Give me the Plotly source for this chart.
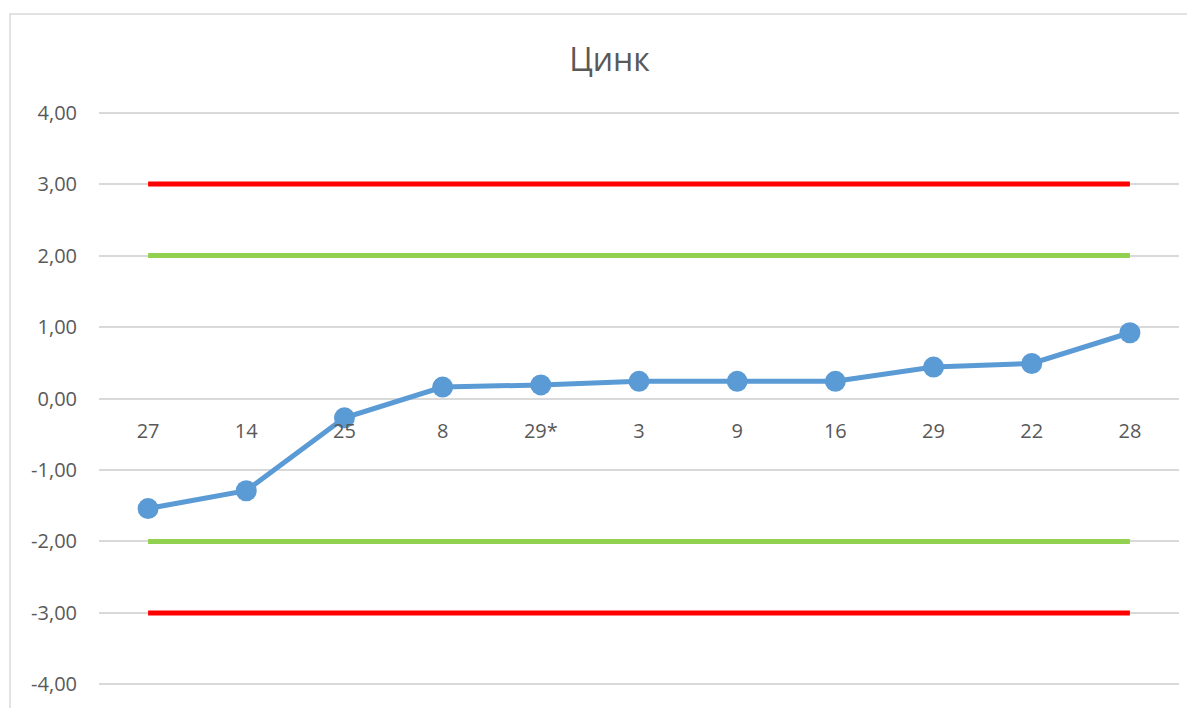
import plotly.graph_objects as go

categories = ["27", "14", "25", "8", "29*", "3", "9", "16", "29", "22", "28"]
values = [-1.54, -1.29, -0.27, 0.16, 0.19, 0.24, 0.24, 0.24, 0.44, 0.49, 0.92]
upper_red = [3.0] * len(categories)
lower_red = [-3.0] * len(categories)
upper_green = [2.0] * len(categories)
lower_green = [-2.0] * len(categories)
y_ticks = [-4, -3, -2, -1, 0, 1, 2, 3, 4]
y_ticktext = [f"{v:.2f}".replace(".", ",") for v in y_ticks]

fig = go.Figure()
for vals, col in [(upper_red, "#FF0000"), (upper_green, "#92D050"),
                  (lower_green, "#92D050"), (lower_red, "#FF0000")]:
    fig.add_trace(go.Scatter(x=categories, y=vals, mode="lines",
                             line=dict(color=col, width=5), hoverinfo="skip",
                             showlegend=False))

fig.add_trace(go.Scatter(x=categories, y=values, mode="lines+markers",
                         line=dict(color="#5B9BD5", width=5),
                         marker=dict(color="#5B9BD5", size=21),
                         showlegend=False))

# page body has an 8px margin
OFF = 8
W, H = 1195 - OFF, 708 - OFF
L, R, T, B = 99 - OFF, 16, 109 - OFF, 20
pw = W - L - R
ph = H - T - B

fig.update_layout(
    width=W, height=H,
    margin=dict(l=L, r=R, t=T, b=B),
    paper_bgcolor="white", plot_bgcolor="white",
    font=dict(family="Open Sans, Noto Sans, sans-serif", color="#595959", size=19),
    title=dict(text="Цинк", x=(609.5 - OFF) / W, xanchor="center",
               y=1 - (60 - OFF) / H, yanchor="middle",
               font=dict(size=32, color="#595959")),
    xaxis=dict(type="category", range=[-0.5, len(categories) - 0.5],
               anchor="free", position=0.5, showgrid=False, showline=False,
               zeroline=False, ticks="outside", ticklen=14,
               tickcolor="rgba(0,0,0,0)", tickfont=dict(size=20, color="#595959")),
    yaxis=dict(range=[-4.05, 4.05], tickvals=y_ticks, ticktext=y_ticktext,
               showgrid=True, gridcolor="#D9D9D9", gridwidth=1.5,
               zeroline=False, showline=False, ticks="outside", ticklen=17,
               tickcolor="rgba(0,0,0,0)", tickfont=dict(size=20, color="#595959")),
)

# outer chart-area border
x0 = (10 - 99) / pw
x1 = (W + 20 - L) / pw
y1 = (H - B - (14 - OFF)) / ph
y0 = (H - B - (H + 20)) / ph
fig.add_shape(type="rect", xref="paper", yref="paper", x0=x0, x1=x1, y0=y0, y1=y1,
              line=dict(color="#D9D9D9", width=1.5), fillcolor="rgba(0,0,0,0)",
              layer="below")

fig.write_html("out.html")
